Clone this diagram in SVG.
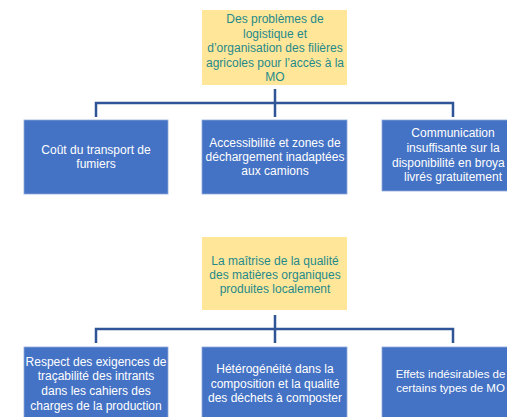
<svg xmlns="http://www.w3.org/2000/svg" width="507" height="417" viewBox="0 0 507 417">
<style>
.y{fill:#FFE699}
.b{fill:#4472C4;stroke:#8FAADC;stroke-width:0.8}
.ty{font-family:"Liberation Sans",Arial,sans-serif;font-size:12px;fill:#1F8A8A;text-anchor:middle}
.tb{font-family:"Liberation Sans",Arial,sans-serif;font-size:12px;fill:#FFFFFF;text-anchor:middle}
.c{fill:none;stroke:#2F5597;stroke-width:2.5}
</style>
<rect width="507" height="417" fill="#FFFFFF"/>
<g id="connectors">
<path class="c" d="M275 89V117M96 117V103H453V117"/>
<path class="c" d="M275 315V343M96 343V329H453V343"/>
</g>
<g id="top-root">
<rect class="y" x="202" y="10" width="145" height="75"/>
<text class="ty" x="275" y="23">Des problèmes de</text>
<text class="ty" x="275" y="37.5">logistique et</text>
<text class="ty" x="275" y="52">d’organisation des filières</text>
<text class="ty" x="275" y="66.5">agricoles pour l’accès à la</text>
<text class="ty" x="275" y="81">MO</text>
</g>
<g id="top-left">
<rect class="b" x="24" y="120" width="144" height="74"/>
<text class="tb" x="96" y="154">Coût du transport de</text>
<text class="tb" x="96" y="168">fumiers</text>
</g>
<g id="top-middle">
<rect class="b" x="202" y="120" width="145" height="74"/>
<text class="tb" x="275" y="147">Accessibilité et zones de</text>
<text class="tb" x="275" y="161">déchargement inadaptées</text>
<text class="tb" x="275" y="175">aux camions</text>
</g>
<g id="top-right">
<rect class="b" x="382" y="120" width="145" height="71"/>
<text class="tb" x="453" y="137">Communication</text>
<text class="tb" x="453" y="152">insuffisante sur la</text>
<text class="tb" x="392" y="167" style="text-anchor:start">disponibilité en broya</text>
<text class="tb" x="453" y="181">livrés gratuitement</text>
</g>
<g id="bottom-root">
<rect class="y" x="202" y="237" width="145" height="73"/>
<text class="ty" x="275" y="265">La maîtrise de la qualité</text>
<text class="ty" x="275" y="279">des matières organiques</text>
<text class="ty" x="275" y="293">produites localement</text>
</g>
<g id="bottom-left">
<rect class="b" x="24" y="347" width="144" height="80"/>
<text class="tb" x="96" y="366">Respect des exigences de</text>
<text class="tb" x="96" y="380">traçabilité des intrants</text>
<text class="tb" x="96" y="395">dans les cahiers des</text>
<text class="tb" x="96" y="410">charges de la production</text>
</g>
<g id="bottom-middle">
<rect class="b" x="202" y="347" width="145" height="80"/>
<text class="tb" x="275" y="373">Hétérogénéité dans la</text>
<text class="tb" x="275" y="388">composition et la qualité</text>
<text class="tb" x="275" y="402">des déchets à composter</text>
</g>
<g id="bottom-right">
<rect class="b" x="382" y="347" width="145" height="80"/>
<text class="tb" x="450.5" y="378" style="font-size:11.5px">Effets indésirables de</text>
<text class="tb" x="450.5" y="392" style="font-size:11.5px">certains types de MO</text>
</g>
</svg>
